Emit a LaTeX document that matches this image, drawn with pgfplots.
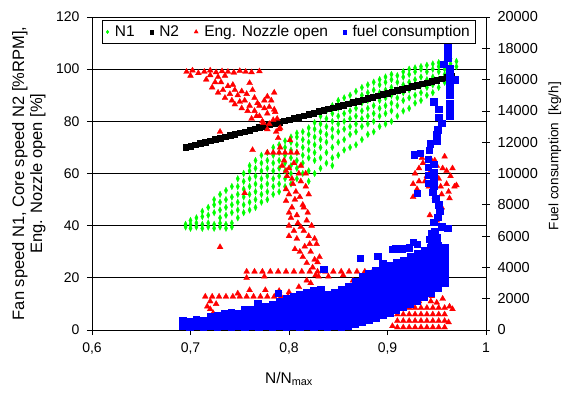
\documentclass[border=0pt]{standalone}
\usepackage{pgfplots}
\pgfplotsset{compat=1.18}
\usepackage{fontspec}
\setmainfont{Liberation Sans}
\definecolor{cgreen}{RGB}{0,255,0}
\definecolor{cred}{RGB}{255,0,0}
\definecolor{cblue}{RGB}{0,0,255}
\begin{document}
\begin{tikzpicture}
\path[use as bounding box] (-92pt,-62pt) rectangle (471pt,330pt);
\begin{axis}[
  at={(0pt,0pt)}, anchor=south west,
  scale only axis, width=394pt, height=313pt,
  xmin=0.6, xmax=1, ymin=0, ymax=120,
  xtick={0.6,0.7,0.8,0.9,1}, ytick={0,20,40,60,80,100,120},
  axis x line*=bottom, axis y line*=left,
  axis line style={-, black, line width=0.8pt},
  ymajorgrids, major grid style={black, line width=0.7pt},
  tick align=outside, major tick length=5pt,
  major tick style={black, line width=0.8pt},
  /pgf/number format/use comma,
  /pgf/number format/assume math mode=true,
  ticklabel style={font=\fontsize{14}{16}\selectfont},
  xticklabel style={yshift=-4pt},
  yticklabel style={xshift=-4pt},
  xlabel={N/N\textsubscript{max}},
  xlabel style={at={(rel axis cs:0.5,-0.17)}, anchor=base, font=\fontsize{15.5}{18}\selectfont},
  ylabel={Fan speed N1, Core speed N2 [\%RPM],\\Eng. Nozzle open [\%]},
  ylabel style={at={(rel axis cs:-0.16,0.5)}, anchor=center, align=center, font=\fontsize{16.5}{18}\selectfont},
]
% N1
\addplot[only marks, mark=diamond*, mark size=2.2pt, draw=cgreen, fill=cgreen, mark options={line width=0.3pt, yscale=1.5}] coordinates {
(0.695,39.5)(0.695,40.5)
(0.700,39)(0.700,40.5)(0.700,42)
(0.706,39.5)(0.706,41)(0.706,43)
(0.712,39)(0.712,40.5)(0.712,43.5)(0.712,45.5)
(0.718,39.5)(0.718,41)(0.718,44)(0.718,47)
(0.724,39)(0.724,40.5)(0.724,45)(0.724,48)(0.724,50)
(0.730,39.5)(0.730,41)(0.730,43)(0.730,46)(0.730,49)(0.730,52)
(0.736,39)(0.736,40.5)(0.736,44)(0.736,47)(0.736,50)(0.736,53.5)
(0.742,39.5)(0.742,41)(0.742,45)(0.742,48)(0.742,51)(0.742,55)
(0.748,43)(0.748,46)(0.748,49)(0.748,52)(0.748,55)(0.748,58)
(0.754,45)(0.754,48)(0.754,51)(0.754,54)(0.754,57)(0.754,60)
(0.760,46)(0.760,49)(0.760,52)(0.760,55)(0.760,58)(0.760,61)(0.760,63)
(0.766,47)(0.766,50)(0.766,53)(0.766,56)(0.766,59)(0.766,62)(0.766,65)
(0.772,49)(0.772,52)(0.772,55)(0.772,58)(0.772,61)(0.772,64)(0.772,67)
(0.778,50)(0.778,53)(0.778,56)(0.778,59)(0.778,62)(0.778,65)(0.778,68)
(0.784,52)(0.784,55)(0.784,58)(0.784,61)(0.784,64)(0.784,67)(0.784,70)
(0.790,53)(0.790,56)(0.790,59)(0.790,62)(0.790,65)(0.790,68)(0.790,71)
(0.796,55)(0.796,58)(0.796,61)(0.796,64)(0.796,67)(0.796,70)(0.796,72.5)
(0.802,56)(0.802,60)(0.802,63)(0.802,66)(0.802,69)(0.802,72)(0.802,74)
(0.808,58)(0.808,62)(0.808,65)(0.808,68)(0.808,71)(0.808,74)(0.808,75.5)
(0.814,60)(0.814,64)(0.814,67)(0.814,70)(0.814,73)(0.814,76)
(0.820,57)(0.820,61)(0.820,66)(0.820,69)(0.820,72)(0.820,75)(0.820,77.5)
(0.826,60)(0.826,65)(0.826,68)(0.826,71)(0.826,74)(0.826,77)(0.826,79.5)
(0.832,62)(0.832,66)(0.832,70)(0.832,73)(0.832,76)(0.832,79)(0.832,82)
(0.838,64)(0.838,68)(0.838,72)(0.838,75)(0.838,78)(0.838,81)(0.838,84)
(0.844,63)(0.844,66)(0.844,70)(0.844,74)(0.844,77)(0.844,80)(0.844,83)(0.844,86)
(0.850,67)(0.850,72)(0.850,76)(0.850,79)(0.850,82)(0.850,85)(0.850,88)
(0.856,69)(0.856,73)(0.856,77)(0.856,80)(0.856,83)(0.856,86)(0.856,89)
(0.862,70)(0.862,75)(0.862,78)(0.862,81)(0.862,84)(0.862,87)(0.862,90)
(0.868,71)(0.868,76)(0.868,79)(0.868,82)(0.868,85)(0.868,88)(0.868,91.5)
(0.874,73)(0.874,78)(0.874,81)(0.874,84)(0.874,87)(0.874,90)(0.874,93)
(0.880,75)(0.880,79)(0.880,82)(0.880,85)(0.880,88)(0.880,91)(0.880,94)
(0.886,76)(0.886,80)(0.886,83)(0.886,86)(0.886,89)(0.886,92)(0.886,95)
(0.892,78)(0.892,82)(0.892,85)(0.892,88)(0.892,91)(0.892,94)(0.892,96)
(0.898,79)(0.898,83)(0.898,86)(0.898,89)(0.898,92)(0.898,95)(0.898,97)
(0.904,80)(0.904,84)(0.904,87)(0.904,90)(0.904,93)(0.904,96)(0.904,98)
(0.910,82)(0.910,86)(0.910,89)(0.910,92)(0.910,95)(0.910,97.5)
(0.916,84)(0.916,88)(0.916,91)(0.916,94)(0.916,97)(0.916,99)
(0.922,85)(0.922,89)(0.922,92)(0.922,95)(0.922,98)(0.922,100)
(0.928,87)(0.928,90)(0.928,93)(0.928,96)(0.928,99)(0.928,100.5)
(0.934,88)(0.934,91)(0.934,94)(0.934,97)(0.934,100)(0.934,101)
(0.940,90)(0.940,93)(0.940,96)(0.940,99)(0.940,101.5)
(0.946,91)(0.946,94)(0.946,97)(0.946,100)(0.946,102)
(0.952,93)(0.952,96)(0.952,99)(0.952,101)(0.952,102.5)
(0.958,95)(0.958,98)(0.958,100)(0.958,102.5)
(0.964,97)(0.964,100)(0.964,102)(0.964,104)
(0.970,101)(0.970,103)
};
% N2
\addplot[only marks, mark=square*, mark size=2.8pt, draw=black, fill=black, mark options={line width=0.3pt}] coordinates {
(0.695,70.1)(0.700,70.6)(0.705,71.1)(0.710,71.6)(0.715,72.1)(0.720,72.6)
(0.725,73.1)(0.730,73.6)(0.735,74.1)(0.740,74.6)(0.745,75.1)(0.750,75.6)
(0.755,76.1)(0.760,76.7)(0.765,77.2)(0.770,77.7)(0.775,78.2)(0.780,78.7)
(0.785,79.2)(0.790,79.7)(0.795,80.2)(0.800,80.7)(0.805,81.2)(0.810,81.7)
(0.815,82.2)(0.820,82.7)(0.825,83.2)(0.830,83.8)(0.835,84.3)(0.840,84.8)
(0.845,85.3)(0.850,85.8)(0.855,86.3)(0.860,86.8)(0.865,87.3)(0.870,87.8)
(0.875,88.3)(0.880,88.8)(0.885,89.3)(0.890,89.8)(0.895,90.4)(0.900,90.9)
(0.905,91.4)(0.910,91.9)(0.915,92.4)(0.920,92.9)(0.925,93.4)(0.930,93.9)
(0.935,94.4)(0.940,94.9)(0.945,95.4)(0.950,95.9)(0.955,96.4)(0.960,96.9)
(0.965,97.4)
};
% Eng. Nozzle open
\addplot[only marks, mark=triangle*, mark size=3.4pt, draw=cred, fill=cred, mark options={line width=0.3pt}] coordinates {
(0.696,99)(0.702,99.5)(0.708,98.5)(0.714,99)(0.720,99.5)(0.726,98.8)(0.732,99.2)(0.738,99)(0.744,98.7)(0.750,99.3)(0.756,99)(0.762,98.8)(0.770,99.2)(0.700,97.5)(0.720,97.7)(0.735,97.5)
(0.716,96)(0.722,93)(0.728,91)(0.731,95)(0.735,89)(0.738,93.5)(0.742,88)(0.745,86.5)(0.748,90)(0.752,85)(0.755,88)(0.758,84)(0.760,86)(0.762,81)(0.765,84)(0.768,87)(0.770,82)(0.773,80)(0.775,85)(0.778,83)(0.780,79)(0.782,88)(0.785,84.5)(0.788,81)(0.790,77)(0.763,92)(0.778,89.5)(0.760,94.7)(0.786,83.6)(0.774,79.4)(0.730,76)(0.791,77.5)(0.789,73.6)(0.791,70)(0.763,69)(0.801,72.8)
(0.725,95)(0.733,92)(0.740,90.5)(0.743,94)(0.750,87.5)(0.757,90.5)(0.765,89)(0.770,86)(0.775,88)(0.780,85.5)(0.784,80.5)(0.767,82)(0.752,91.5)(0.745,92)(0.728,97)(0.785,91)(0.778,77)(0.787,76)
(0.778,68)(0.784,68)(0.790,68)(0.796,68)(0.802,68)(0.808,68)
(0.795,65)(0.800,62)(0.805,64)(0.798,59)(0.810,60)(0.804,56)(0.812,57)(0.817,55)(0.800,52)(0.797,49.5)(0.806,50)(0.815,47)(0.808,44)(0.818,42)(0.800,45)(0.800,40)(0.800,36)(0.812,39.5)(0.820,36)(0.808,35)(0.816,32)(0.822,30)(0.826,27)(0.818,25.7)(0.828,33)(0.829,26)(0.814,28)(0.818,19)(0.810,16.5)(0.822,18)
(0.793,63)(0.797,61)(0.803,58)(0.807,53)(0.811,51)(0.814,48)(0.819,45)(0.803,47)(0.809,41)(0.815,38)(0.805,38)(0.823,40)(0.826,35)(0.821,33)(0.811,30)(0.824,24)(0.827,21)(0.831,28)(0.806,31)(0.802,43)(0.797,54)(0.817,60)(0.812,63)(0.820,52)
(0.757,22.4)(0.765,22.4)(0.773,22.4)(0.781,22.4)(0.789,22.4)(0.797,22.4)(0.805,22.4)(0.813,22.4)(0.821,22.4)(0.829,22.4)(0.837,22.4)(0.845,22.4)(0.853,22.4)(0.861,22.4)(0.869,22.4)(0.877,22.4)(0.885,22.4)(0.893,22.4)(0.901,22.4)(0.906,22.4)(0.757,20)(0.775,20.5)(0.830,20.5)(0.865,19)(0.855,21)(0.840,20.5)(0.870,17)
(0.715,12.8)(0.722,12.8)(0.729,12.8)(0.736,12.8)(0.743,12.8)(0.750,12.8)(0.757,12.8)(0.764,12.8)(0.771,12.8)(0.778,12.8)(0.785,12.8)(0.792,12.8)(0.799,12.8)(0.806,12.8)(0.813,12.8)(0.820,12.8)(0.827,12.8)(0.831,12.8)(0.720,11)(0.717,9)(0.720,8)(0.726,10)(0.760,15.3)(0.776,15.3)(0.748,14)(0.790,15)(0.800,14.5)(0.815,14)
(0.745,5)(0.770,3)(0.800,2)(0.810,4)(0.825,1.5)(0.835,3)(0.790,1)(0.760,1.5)(0.723,6.5)(0.780,5.5)
(0.730,31.8)(0.755,52.5)
(0.928,60)(0.932,62)(0.936,64)(0.940,59)(0.944,61)(0.948,65)(0.952,58)(0.956,62)(0.960,56)(0.964,59)(0.968,55)(0.958,66.5)(0.946,56)(0.935,66)(0.942,55)(0.930,54)(0.955,52)(0.962,53)(0.970,55.5)(0.948,51)(0.963,50.5)(0.926,56)(0.926,51)(0.943,44)(0.950,42)(0.955,47)(0.935,14)(0.940,16)(0.930,15.5)(0.945,13)
(0.938,57)(0.950,63)(0.960,61)(0.966,62)(0.954,55)(0.944,65.5)(0.932,57)
(0.910,1)(0.910,3.5)(0.910,6)(0.910,8.5)
(0.916,1)(0.916,3.5)(0.916,6)(0.916,8.5)
(0.922,1)(0.922,3.5)(0.922,6)(0.922,8.5)
(0.928,1)(0.928,3.5)(0.928,6)(0.928,8.5)
(0.934,1)(0.934,3.5)(0.934,6)(0.934,8.5)
(0.940,1)(0.940,3.5)(0.940,6)(0.940,8.5)
(0.946,1)(0.946,3.5)(0.946,6)(0.946,8.5)
(0.952,1)(0.952,3.5)(0.952,6)(0.952,8.5)
(0.958,1)(0.958,3.5)(0.958,6)(0.958,8.5)
(0.963,9)(0.966,8)(0.905,1.5)(0.944,11)(0.950,10.5)(0.956,12)(0.932,11)(0.962,3)
};
\end{axis}
\begin{axis}[
  at={(0pt,0pt)}, anchor=south west,
  scale only axis, width=394pt, height=313pt,
  xmin=0.6, xmax=1, ymin=0, ymax=20000,
  ytick={0,2000,...,20000},
  axis x line=none, axis y line*=right,
  axis line style={-, black, line width=0.8pt},
  tick align=center, major tick length=8pt,
  major tick style={black, line width=0.8pt},
  scaled y ticks=false,
  /pgf/number format/1000 sep={},
  /pgf/number format/assume math mode=true,
  yticklabel style={font=\fontsize{14.5}{16}\selectfont, xshift=4pt},
  ylabel={Fuel consumption~~[kg/h]},
  ylabel style={at={(rel axis cs:1.175,0.556)}, anchor=center, font=\fontsize{13.6}{16}\selectfont},
  legend style={at={(rel axis cs:0.5,0.99)}, anchor=north, draw=black, line width=0.8pt, fill=white,
    font=\fontsize{15.5}{18}\selectfont, inner xsep=4pt, inner ysep=3pt,
    /tikz/every odd column/.append style={column sep=4pt},
    /tikz/every even column/.append style={column sep=13pt}},
  legend columns=-1,
  legend cell align=left,
]
\addlegendimage{only marks, mark=diamond*, mark size=1.8pt, draw=cgreen, fill=cgreen, line width=0.3pt}
\addlegendentry{N1}
\addlegendimage{only marks, mark=square*, mark size=1.8pt, draw=black, fill=black, line width=0.3pt}
\addlegendentry{N2}
\addlegendimage{only marks, mark=triangle*, mark size=2.4pt, draw=cred, fill=cred, line width=0.3pt}
\addlegendentry{Eng. Nozzle open}
\addlegendimage{only marks, mark=square*, mark size=1.8pt, draw=cblue, fill=cblue, line width=0.3pt}
\addlegendentry{fuel consumption}
\addplot[forget plot, only marks, mark=square*, mark size=3.2pt, draw=cblue, fill=cblue, mark options={line width=0.3pt}] coordinates {
(0.692,250)(0.692,600)
(0.699,200)(0.699,550)
(0.706,250)(0.706,650)
(0.713,200)(0.713,600)
(0.720,250)(0.720,650)(0.720,900)
(0.727,200)(0.727,600)(0.727,950)
(0.734,250)(0.734,650)(0.734,1050)
(0.741,200)(0.741,600)(0.741,1000)(0.741,1150)
(0.748,250)(0.748,650)(0.748,1050)
(0.755,200)(0.755,600)(0.755,1000)(0.755,1300)
(0.762,250)(0.762,650)(0.762,1050)(0.762,1350)
(0.769,200)(0.769,600)(0.769,1000)(0.769,1400)
(0.776,250)(0.776,650)(0.776,1050)(0.776,1500)
(0.783,200)(0.783,600)(0.783,1000)(0.783,1400)(0.783,1650)
(0.790,250)(0.790,650)(0.790,1050)(0.790,1450)(0.790,1800)
(0.797,200)(0.797,600)(0.797,1000)(0.797,1400)(0.797,1850)(0.797,2000)
(0.804,250)(0.804,650)(0.804,1050)(0.804,1500)(0.804,1950)(0.804,2150)
(0.811,200)(0.811,600)(0.811,1000)(0.811,1450)(0.811,1900)(0.811,2300)
(0.818,250)(0.818,650)(0.818,1050)(0.818,1500)(0.818,1950)(0.818,2400)
(0.825,200)(0.825,600)(0.825,1000)(0.825,1450)(0.825,1900)(0.825,2350)(0.825,2550)
(0.832,250)(0.832,650)(0.832,1050)(0.832,1500)(0.832,1950)(0.832,2400)(0.832,2600)
(0.839,200)(0.839,600)(0.839,1000)(0.839,1450)(0.839,1900)(0.839,2300)
(0.846,250)(0.846,650)(0.846,1050)(0.846,1500)(0.846,1950)(0.846,2400)
(0.853,200)(0.853,600)(0.853,1000)(0.853,1450)(0.853,1900)(0.853,2350)(0.853,2600)
(0.860,250)(0.860,650)(0.860,1050)(0.860,1500)(0.860,1950)(0.860,2400)(0.860,2800)
(0.867,400)(0.867,800)(0.867,1250)(0.867,1700)(0.867,2150)(0.867,2600)(0.867,3100)
(0.874,500)(0.874,900)(0.874,1350)(0.874,1800)(0.874,2250)(0.874,2700)(0.874,3150)(0.874,3400)
(0.881,650)(0.881,1100)(0.881,1550)(0.881,2000)(0.881,2450)(0.881,2900)(0.881,3350)(0.881,3600)
(0.888,800)(0.888,1250)(0.888,1700)(0.888,2150)(0.888,2600)(0.888,3050)(0.888,3500)(0.888,3800)
(0.895,950)(0.895,1400)(0.895,1850)(0.895,2300)(0.895,2750)(0.895,3200)(0.895,3650)(0.895,4000)
(0.902,1100)(0.902,1550)(0.902,2000)(0.902,2450)(0.902,2900)(0.902,3350)(0.902,3800)(0.902,4100)
(0.909,1250)(0.909,1700)(0.909,2150)(0.909,2600)(0.909,3050)(0.909,3500)(0.909,3950)(0.909,4300)
(0.916,1450)(0.916,1900)(0.916,2350)(0.916,2800)(0.916,3250)(0.916,3700)(0.916,4150)(0.916,4450)
(0.923,1650)(0.923,2100)(0.923,2550)(0.923,3000)(0.923,3450)(0.923,3900)(0.923,4350)(0.923,4700)
(0.930,1850)(0.930,2300)(0.930,2750)(0.930,3200)(0.930,3650)(0.930,4100)(0.930,4550)(0.930,4900)
(0.937,2100)(0.937,2550)(0.937,3000)(0.937,3450)(0.937,3900)(0.937,4350)(0.937,4800)(0.937,5100)
(0.944,2350)(0.944,2800)(0.944,3250)(0.944,3700)(0.944,4150)(0.944,4600)(0.944,5050)(0.944,5300)
(0.951,2700)(0.951,3150)(0.951,3600)(0.951,4050)(0.951,4500)(0.951,4950)(0.951,5400)
(0.958,3000)(0.958,3450)(0.958,3900)(0.958,4350)(0.958,4800)(0.958,5250)
(0.789,2360)(0.768,1730)(0.835,3900)(0.872,4600)(0.890,4730)(0.895,4290)(0.905,5180)(0.926,5620)(0.908,5200)(0.915,5200)(0.922,5250)(0.930,5500)
(0.942,5800)(0.945,6200)(0.945,5600)(0.950,5900)(0.948,6300)(0.955,6600)(0.961,6500)(0.947,6900)(0.951,7200)(0.953,7600)(0.952,8000)(0.949,8400)(0.946,8800)(0.930,8750)(0.947,9200)(0.941,9400)(0.947,9600)(0.941,9900)(0.947,10100)(0.941,10400)(0.947,10600)(0.941,10900)(0.927,11200)(0.933,11300)(0.942,11500)(0.943,11900)(0.950,12100)(0.950,12500)(0.951,12800)(0.955,13200)(0.952,13600)(0.963,13700)(0.952,14100)(0.963,14100)(0.947,14600)(0.963,14500)(0.963,15000)(0.963,15400)(0.963,15800)(0.968,16000)(0.963,16300)(0.963,16700)(0.957,17000)(0.961,17400)(0.961,17800)(0.961,18200)
};
\end{axis}
\end{tikzpicture}
\end{document}
